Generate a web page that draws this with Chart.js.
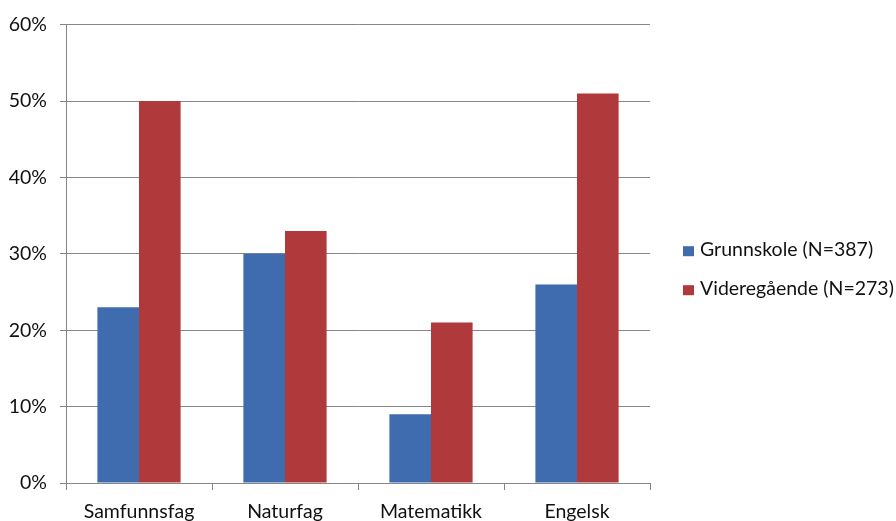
<!DOCTYPE html>
<html>
<head>
<meta charset="utf-8">
<script src="https://cdn.jsdelivr.net/npm/chart.js@4"></script>
<style>
  html, body { margin: 0; padding: 0; background: #ffffff; }
  #wrap { width: 896px; height: 521px; position: relative; }
</style>
</head>
<body>
<div id="wrap"><canvas id="c"></canvas></div>
<script>
const categories = ['Samfunnsfag', 'Naturfag', 'Matematikk', 'Engelsk'];
const grunnskole = [23, 30, 9, 26];
const videregaende = [50, 33, 21, 51];
const seriesNames = ['Grunnskole (N=387)', 'Videregående (N=273)'];
const seriesColors = ['#3F6BAF', '#B0393C'];
const yTicks = [0, 10, 20, 30, 40, 50, 60];

const gridGray = '#878787';
const textColor = '#111111';
const fontFamily = 'Lato, "Open Sans", sans-serif';
const fontSize = 19.5;

// Legend drawn to the right of the plot, one row per series
const sideLegend = {
  id: 'sideLegend',
  afterDraw(chart) {
    const ctx = chart.ctx;
    const area = chart.chartArea;
    const x0 = area.right + 33;
    const y0 = area.top + 226;
    ctx.save();
    ctx.font = fontSize + 'px ' + fontFamily;
    ctx.textBaseline = 'middle';
    ctx.textAlign = 'left';
    chart.data.datasets.forEach((ds, i) => {
      const cy = y0 + i * 39;
      ctx.fillStyle = ds.backgroundColor;
      ctx.fillRect(x0, cy - 4.5, 11, 10);
      ctx.fillStyle = textColor;
      ctx.fillText(ds.label, x0 + 17, cy - 0.5);
    });
    ctx.restore();
  }
};

new Chart(document.getElementById('c'), {
  type: 'bar',
  data: {
    labels: categories,
    datasets: [
      { label: seriesNames[0], data: grunnskole, backgroundColor: seriesColors[0] },
      { label: seriesNames[1], data: videregaende, backgroundColor: seriesColors[1] }
    ]
  },
  options: {
    responsive: true,
    maintainAspectRatio: false,
    animation: false,
    layout: { padding: { top: 23.5, left: 0, right: 246, bottom: 0 } },
    datasets: { bar: { categoryPercentage: 0.57, barPercentage: 1.0 } },
    plugins: {
      tooltip: { enabled: false },
      legend: { display: false }
    },
    scales: {
      x: {
        offset: true,
        afterFit: (s) => { s.height = 38; },
        grid: { offset: true, drawOnChartArea: false, drawTicks: true, tickLength: 7, color: gridGray },
        border: { color: gridGray },
        ticks: { color: textColor, font: { family: fontFamily, size: fontSize }, padding: 10 }
      },
      y: {
        min: 0, max: 60,
        afterFit: (s) => { s.width = 66; },
        afterBuildTicks: (axis) => { axis.ticks = yTicks.map(v => ({ value: v })); },
        grid: { color: gridGray, tickLength: 6 },
        border: { color: gridGray },
        ticks: { color: textColor, font: { family: fontFamily, size: fontSize }, padding: 13,
                 callback: (v) => v + '%' }
      }
    }
  },
  plugins: [sideLegend]
});
</script>
</body>
</html>
